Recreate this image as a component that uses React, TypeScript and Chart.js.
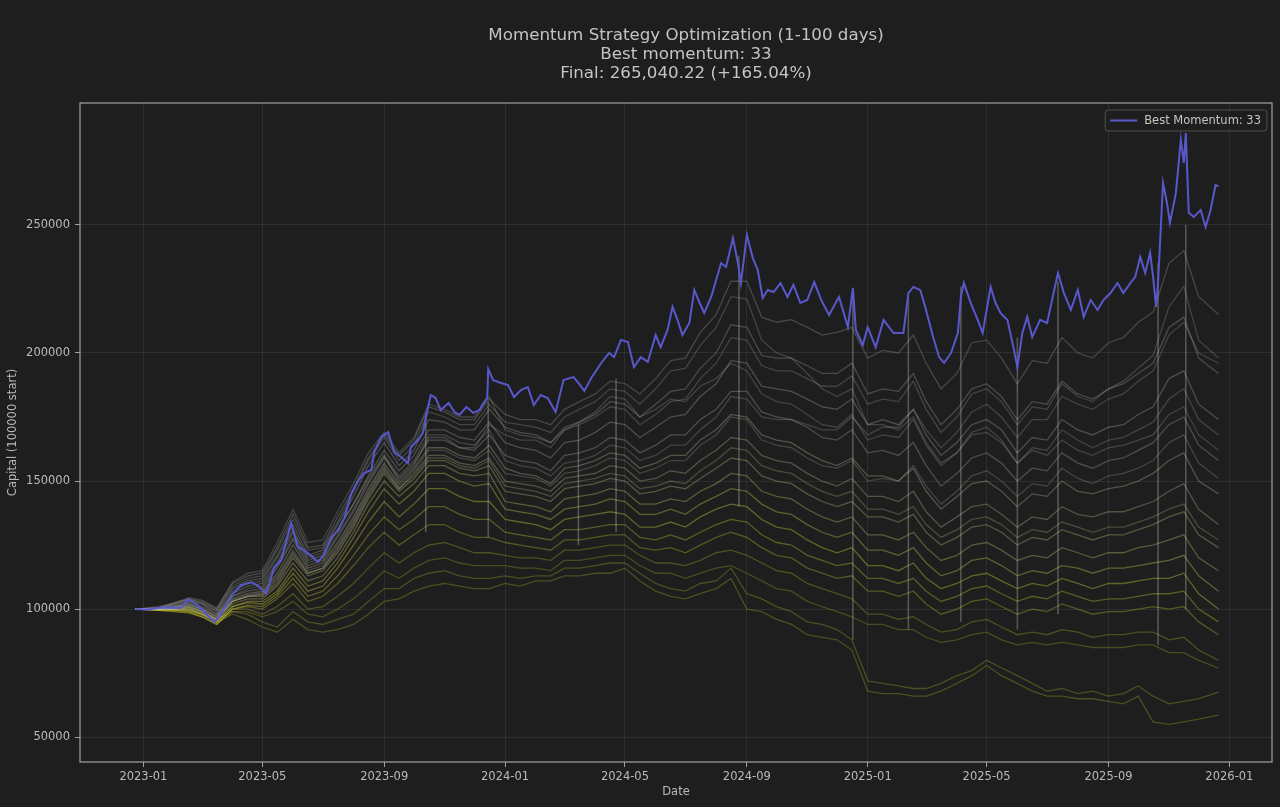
import React, { useEffect, useRef } from "react";
import { Chart, registerables } from "chart.js";

Chart.register(...registerables);

// ---- text ----
const TITLE_LINES = [
  "Momentum Strategy Optimization (1-100 days)",
  "Best momentum: 33",
  "Final: 265,040.22 (+165.04%)",
];
const BEST_LABEL = "Best Momentum: 33";
const X_AXIS_TITLE = "Date";
const Y_AXIS_TITLE = "Capital (100000 start)";

// ---- axes ----
const X_TICK_LABELS = [
  "2023-01", "2023-05", "2023-09", "2024-01", "2024-05",
  "2024-09", "2025-01", "2025-05", "2025-09", "2026-01",
];
const Y_TICK_VALUES = [50000, 100000, 150000, 200000, 250000];
const X_RANGE = ["2022-10-29", "2026-02-13"];
const Y_RANGE = [40300, 297600];

// ---- best run (momentum = 33) ----
const bestDates = [
  "2022-12-24", "2023-01-05", "2023-01-19", "2023-02-08", "2023-02-15", "2023-02-26", "2023-03-06", "2023-03-14",
  "2023-03-21", "2023-03-31", "2023-04-10", "2023-04-20", "2023-04-27", "2023-05-05", "2023-05-13", "2023-05-20",
  "2023-05-30", "2023-06-06", "2023-06-12", "2023-06-21", "2023-06-26", "2023-07-02", "2023-07-10", "2023-07-17",
  "2023-07-23", "2023-07-30", "2023-08-06", "2023-08-12", "2023-08-19", "2023-08-22", "2023-08-29", "2023-09-05",
  "2023-09-11", "2023-09-18", "2023-09-25", "2023-09-28", "2023-10-05", "2023-10-10", "2023-10-13", "2023-10-18",
  "2023-10-23", "2023-10-28", "2023-11-05", "2023-11-11", "2023-11-16", "2023-11-23", "2023-11-30", "2023-12-06",
  "2023-12-11", "2023-12-14", "2023-12-15", "2023-12-20", "2023-12-28", "2024-01-04", "2024-01-10", "2024-01-17",
  "2024-01-24", "2024-01-30", "2024-02-06", "2024-02-13", "2024-02-21", "2024-02-29", "2024-03-10", "2024-03-15",
  "2024-03-21", "2024-03-28", "2024-04-07", "2024-04-15", "2024-04-20", "2024-04-27", "2024-05-04", "2024-05-10",
  "2024-05-17", "2024-05-24", "2024-05-27", "2024-06-01", "2024-06-06", "2024-06-13", "2024-06-18", "2024-06-23",
  "2024-06-28", "2024-07-05", "2024-07-10", "2024-07-15", "2024-07-20", "2024-07-27", "2024-08-01", "2024-08-06",
  "2024-08-11", "2024-08-18", "2024-08-23", "2024-08-26", "2024-09-01", "2024-09-07", "2024-09-12", "2024-09-17",
  "2024-09-22", "2024-09-28", "2024-10-05", "2024-10-12", "2024-10-18", "2024-10-25", "2024-11-01", "2024-11-08",
  "2024-11-15", "2024-11-23", "2024-12-03", "2024-12-12", "2024-12-17", "2024-12-20", "2024-12-27", "2025-01-01",
  "2025-01-09", "2025-01-17", "2025-01-27", "2025-02-06", "2025-02-11", "2025-02-16", "2025-02-23", "2025-02-28",
  "2025-03-08", "2025-03-14", "2025-03-19", "2025-03-26", "2025-04-02", "2025-04-05", "2025-04-08", "2025-04-15",
  "2025-04-22", "2025-04-27", "2025-05-05", "2025-05-10", "2025-05-15", "2025-05-22", "2025-05-28", "2025-06-01",
  "2025-06-06", "2025-06-11", "2025-06-16", "2025-06-24", "2025-07-01", "2025-07-12", "2025-07-18", "2025-07-25",
  "2025-08-01", "2025-08-07", "2025-08-14", "2025-08-21", "2025-08-27", "2025-09-03", "2025-09-10", "2025-09-16",
  "2025-09-23", "2025-09-28", "2025-10-03", "2025-10-08", "2025-10-13", "2025-10-16", "2025-10-19", "2025-10-21",
  "2025-10-26", "2025-10-30", "2025-11-02", "2025-11-08", "2025-11-13", "2025-11-16", "2025-11-18", "2025-11-21",
  "2025-11-26", "2025-12-03", "2025-12-08", "2025-12-13", "2025-12-18", "2025-12-21",
];
const bestCapital = [
  100000, 99800, 100600, 100400, 103900, 101200, 97700, 94900,
  98400, 105500, 109400, 110500, 109000, 106200, 116400, 119100,
  133600, 124200, 123000, 120300, 118400, 121100, 128100, 130900,
  135900, 145300, 150400, 153100, 154300, 161300, 167200, 169100,
  161300, 159400, 157000, 163300, 166000, 168700, 175000, 183600,
  182400, 177700, 180500, 176900, 175800, 178900, 176600, 177700,
  180900, 182400, 193700, 189400, 188300, 187500, 182800, 185500,
  186700, 179700, 183600, 182400, 176900, 189400, 190600, 188300,
  185200, 190200, 196100, 200000, 198400, 205100, 204300, 194500,
  198400, 196500, 200400, 207000, 202300, 209000, 218000, 212900,
  207000, 211700, 224600, 219900, 215600, 221900, 228500, 235100,
  233600, 244900, 235100, 227300, 246100, 237100, 232400, 221500,
  224600, 223800, 227300, 221900, 226600, 219500, 220700, 227700,
  220700, 214800, 221900, 210100, 225400, 209000, 203100, 210100,
  202300, 212900, 207800, 207800, 223400, 225800, 224600, 218000,
  206200, 198400, 196100, 200000, 207800, 221900, 227300, 219500,
  212900, 207800, 225800, 219500, 215600, 212900, 202300, 194500,
  207800, 214100, 206200, 212900, 211700, 231200, 223400, 216800,
  224600, 214100, 220700, 216800, 220700, 223400, 227300, 223400,
  227300, 229700, 237500, 231200, 239100, 229700, 218000, 227300,
  266400, 258600, 250800, 262500, 283200, 274200, 285900, 254700,
  253100, 255800, 249200, 255800, 265600, 265040.22,
];

// ---- other momentum runs, twice a month (capital in thousands) ----
const sweepDates = [
  "2022-12-24", "2023-01-16",
  "2023-02-01", "2023-02-16", "2023-03-01", "2023-03-16", "2023-04-01", "2023-04-16", "2023-05-01", "2023-05-16",
  "2023-06-01", "2023-06-16", "2023-07-01", "2023-07-16", "2023-08-01", "2023-08-16", "2023-09-01", "2023-09-16",
  "2023-10-01", "2023-10-16", "2023-11-01", "2023-11-16", "2023-12-01", "2023-12-16", "2024-01-01", "2024-01-16",
  "2024-02-01", "2024-02-16", "2024-03-01", "2024-03-16", "2024-04-01", "2024-04-16", "2024-05-01", "2024-05-16",
  "2024-06-01", "2024-06-16", "2024-07-01", "2024-07-16", "2024-08-01", "2024-08-16", "2024-09-01", "2024-09-16",
  "2024-10-01", "2024-10-16", "2024-11-01", "2024-11-16", "2024-12-01", "2024-12-16", "2025-01-01", "2025-01-16",
  "2025-02-01", "2025-02-16", "2025-03-01", "2025-03-16", "2025-04-01", "2025-04-16", "2025-05-01", "2025-05-16",
  "2025-06-01", "2025-06-16", "2025-07-01", "2025-07-16", "2025-08-01", "2025-08-16", "2025-09-01", "2025-09-16",
  "2025-10-01", "2025-10-16", "2025-11-01", "2025-11-16", "2025-12-01", "2025-12-21",
];
const runUpper1 = [100, 100.5, 102, 104, 103, 100, 110, 113, 114, 124, 137, 124, 125, 136, 147, 159, 168, 160, 166, 179, 177, 174, 174, 182, 176, 174, 174, 172, 178, 181, 184, 189, 188, 184, 190, 197, 198, 208, 215, 228, 228, 214, 212, 213, 210, 207, 208, 210, 198, 201, 200, 207, 196, 186, 192, 204, 205, 198, 188, 197, 196, 206, 200, 198, 204, 206, 212, 216, 235, 240, 222, 215];
const runUpper2 = [100, 100.3, 101.5, 103, 102, 99, 108, 111, 112, 121, 133, 121, 123, 133, 144, 156, 165, 156, 162, 174, 173, 170, 170, 178, 171, 169, 168, 165, 171, 173, 176, 181, 180, 175, 180, 185, 186, 194, 200, 211, 210, 199, 198, 198, 195, 192, 192, 196, 184, 186, 185, 192, 181, 172, 178, 186, 188, 183, 174, 181, 180, 189, 184, 182, 186, 188, 192, 196, 210, 214, 198, 192];
const runUpper3 = [100, 100.2, 101, 102.5, 101, 98, 106, 109, 110, 118, 130, 119, 121, 131, 141, 152, 162, 154, 160, 170, 170, 167, 166, 173, 165, 163, 162, 159, 165, 166, 169, 173, 172, 167, 171, 175, 176, 183, 188, 197, 196, 187, 186, 185, 182, 179, 178, 182, 172, 174, 172, 178, 168, 160, 165, 172, 174, 170, 161, 167, 166, 174, 170, 168, 171, 172, 176, 179, 190, 193, 180, 174];
const runUpper4 = [100, 100, 101, 102, 100, 97, 105, 107, 108, 116, 127, 117, 119, 128, 138, 149, 159, 151, 157, 166, 166, 163, 162, 168, 160, 158, 157, 154, 160, 161, 163, 167, 166, 161, 164, 168, 168, 174, 178, 185, 185, 177, 175, 174, 171, 167, 166, 170, 161, 162, 160, 165, 156, 148, 153, 159, 161, 157, 150, 155, 154, 161, 157, 155, 158, 159, 162, 165, 172, 175, 164, 158];
const runUpper5 = [100, 99.8, 100.5, 101.5, 100, 97, 104, 106, 107, 114, 125, 116, 118, 126, 136, 147, 157, 149, 155, 163, 163, 160, 159, 164, 155, 153, 152, 149, 155, 156, 158, 161, 160, 155, 157, 160, 160, 166, 170, 176, 175, 168, 166, 165, 161, 158, 156, 159, 152, 152, 150, 155, 146, 139, 144, 149, 150, 146, 140, 145, 144, 150, 146, 145, 147, 148, 150, 153, 158, 161, 150, 145];
const runUpper6 = [100, 100, 100.5, 101, 99, 96, 103, 105, 106, 112, 122, 114, 116, 124, 134, 145, 155, 147, 153, 160, 160, 157, 156, 159, 150, 149, 148, 146, 151, 152, 153, 156, 155, 150, 151, 154, 153, 158, 162, 167, 166, 160, 158, 157, 153, 150, 148, 151, 144, 144, 142, 146, 138, 132, 136, 140, 141, 137, 132, 136, 135, 140, 137, 136, 138, 138, 140, 142, 146, 149, 139, 133];
const runFadeLate = [100, 100.4, 101.8, 103.5, 102.5, 99.5, 109, 112, 113, 123, 135, 123, 124, 134, 146, 158, 167, 158, 164, 177, 175, 172, 172, 180, 173, 172, 171, 169, 175, 178, 181, 186, 185, 180, 186, 193, 194, 203, 210, 222, 221, 205, 200, 198, 192, 186, 183, 186, 172, 172, 170, 175, 165, 157, 161, 168, 169, 165, 157, 162, 160, 166, 162, 160, 163, 164, 166, 168, 176, 179, 168, 162];
const runRiseLate = [100, 100.1, 100.8, 102, 100.5, 97.5, 105, 108, 109, 117, 128, 118, 120, 129, 139, 150, 160, 152, 158, 168, 168, 165, 164, 170, 158, 156, 155, 152, 157, 158, 160, 164, 163, 158, 160, 164, 164, 170, 175, 183, 182, 175, 174, 174, 172, 170, 170, 175, 168, 171, 171, 178, 170, 163, 169, 177, 180, 175, 167, 174, 174, 183, 180, 178, 182, 184, 189, 193, 207, 212, 200, 196];
const runPeakMid = [100, 101, 102.5, 104, 102, 98, 107, 110, 111, 120, 131, 120, 122, 131, 141, 151, 160, 150, 156, 167, 167, 163, 163, 172, 168, 166, 166, 163, 170, 173, 177, 183, 182, 175, 178, 182, 181, 187, 190, 196, 193, 184, 181, 180, 176, 172, 171, 176, 166, 168, 167, 174, 164, 156, 161, 169, 171, 166, 157, 163, 162, 170, 166, 163, 166, 167, 170, 173, 182, 186, 174, 168];
const runSteady = [100, 99.9, 100.6, 101.2, 99.5, 96.5, 103.5, 105.5, 106.5, 113, 123, 115, 117, 125, 135, 146, 156, 148, 154, 162, 162, 159, 158, 162, 153, 152, 151, 148, 153, 154, 156, 159, 158, 153, 155, 158, 158, 164, 168, 175, 174, 166, 164, 163, 159, 156, 155, 158, 150, 151, 150, 156, 148, 141, 146, 152, 154, 150, 144, 149, 148, 155, 151, 149, 152, 153, 155, 158, 165, 168, 157, 151];
const runDrift = [100, 100, 100.2, 100.8, 99.2, 96.2, 103, 105, 105.5, 111, 121, 114, 116, 123, 133, 144, 154, 147, 152, 159, 159, 156, 155, 158, 148, 147, 146, 144, 149, 150, 151, 153, 152, 147, 148, 150, 149, 154, 158, 163, 162, 156, 154, 153, 149, 146, 144, 146, 139, 139, 137, 140, 133, 128, 131, 135, 136, 133, 128, 131, 130, 134, 132, 130, 132, 132, 134, 136, 139, 141, 132, 127];
const runLateSurge = [100, 100.6, 102.3, 104.5, 103.5, 100.5, 110.5, 114, 115, 126, 139, 126, 127, 138, 149, 161, 169, 161, 167, 180, 178, 175, 175, 183, 170, 168, 167, 165, 170, 172, 175, 179, 178, 172, 176, 181, 182, 190, 196, 206, 205, 195, 193, 193, 190, 187, 187, 191, 180, 182, 181, 189, 178, 169, 175, 184, 186, 181, 172, 179, 178, 188, 183, 181, 186, 189, 194, 199, 218, 226, 205, 198];
const runMiddle1 = [100, 100, 100, 100.5, 99, 96, 103, 105, 105, 110, 120, 113, 115, 122, 132, 143, 153, 146, 151, 158, 158, 155, 154, 156, 146, 145, 144, 142, 147, 148, 149, 151, 150, 145, 146, 148, 147, 151, 155, 159, 158, 152, 150, 149, 145, 142, 140, 142, 136, 136, 134, 137, 130, 125, 128, 132, 133, 130, 125, 128, 127, 131, 129, 127, 129, 129, 131, 133, 136, 138, 129, 124];
const runMiddle2 = [100, 99.8, 100, 100, 98.5, 95.5, 102, 104, 104, 109, 118, 111, 113, 120, 130, 141, 150, 144, 149, 156, 156, 153, 152, 153, 142, 141, 140, 138, 143, 144, 145, 147, 146, 141, 141, 143, 142, 146, 149, 153, 152, 146, 144, 143, 139, 136, 134, 136, 129, 129, 127, 130, 124, 119, 121, 125, 126, 123, 119, 121, 120, 124, 122, 120, 122, 122, 124, 125, 127, 129, 120, 115];
const runMiddle3 = [100, 99.7, 100, 99.5, 98, 95, 101, 103, 103, 107, 116, 109, 111, 118, 128, 138, 147, 141, 146, 153, 153, 150, 148, 149, 139, 138, 137, 135, 139, 140, 141, 143, 142, 137, 137, 139, 137, 141, 144, 147, 146, 141, 138, 137, 133, 130, 128, 130, 123, 123, 121, 124, 118, 113, 115, 119, 120, 117, 113, 115, 114, 117, 116, 114, 116, 116, 117, 118, 119, 121, 113, 107];
const runMiddle4 = [100, 99.7, 99.5, 99.5, 98, 95, 101, 102.5, 102, 106, 114, 107, 109, 116, 125, 134, 142, 136, 141, 147, 147, 144, 142, 142, 135, 134, 133, 131, 135, 136, 137, 138, 137, 132, 132, 134, 132, 136, 139, 141, 140, 135, 132, 131, 127, 124, 122, 124, 117, 117, 115, 118, 112, 108, 110, 113, 114, 111, 108, 110, 109, 112, 110, 108, 110, 110, 111, 112, 112, 114, 106, 100];
const runMiddle5 = [100, 99.6, 99.5, 99, 97.5, 94.5, 100, 101.5, 101, 105, 112, 105, 107, 113, 121, 129, 136, 131, 135, 140, 140, 137, 135, 135, 130, 129, 128, 127, 131, 131, 132, 133, 133, 128, 127, 129, 127, 130, 133, 135, 134, 129, 126, 125, 121, 119, 117, 118, 112, 112, 110, 112, 107, 103, 105, 108, 109, 106, 103, 105, 104, 107, 105, 103, 104, 104, 105, 106, 106, 107, 100, 95];
const runMiddle6 = [100, 99.5, 99, 98.5, 97, 94, 100, 101, 100, 104, 110, 103, 105, 110, 117, 124, 130, 125, 129, 133, 133, 130, 128, 128, 126, 125, 124, 123, 127, 127, 128, 129, 129, 124, 123, 124, 122, 125, 128, 130, 128, 124, 121, 120, 116, 114, 112, 113, 107, 107, 105, 107, 102, 98, 100, 103, 104, 101, 98, 100, 99, 102, 100, 98, 99, 99, 100, 101, 100, 101, 95, 90];
const runLower1 = [100, 99.5, 99, 98.5, 97, 94, 100, 100, 98, 101, 106, 100, 101, 105, 110, 116, 122, 118, 122, 125, 126, 124, 122, 122, 121, 120, 120, 119, 123, 123, 124, 125, 125, 121, 118, 118, 117, 119, 122, 123, 121, 118, 115, 114, 110, 108, 106, 104, 98, 98, 96, 97, 94, 91, 92, 95, 96, 93, 90, 91, 90, 92, 91, 89, 90, 90, 91, 91, 88, 89, 84, 80];
const runLower2 = [100, 99.8, 99.5, 99, 97, 94, 99, 99, 97, 99, 103, 98, 97, 100, 104, 109, 115, 112, 116, 119, 120, 118, 117, 117, 117, 116, 116, 115, 119, 119, 120, 121, 121, 117, 114, 114, 112, 114, 116, 117, 114, 111, 108, 107, 103, 101, 99, 97, 94, 94, 92, 92, 89, 87, 88, 90, 91, 88, 86, 87, 86, 87, 86, 85, 85, 85, 86, 86, 83, 83, 80, 77];
const runLowest1 = [100, 100, 100, 100.5, 98, 96, 99, 98, 95, 93, 99, 95, 94, 96, 98, 103, 108, 108, 112, 114, 115, 113, 112, 112, 113, 112, 113, 113, 116, 116, 117, 118, 118, 114, 110, 108, 107, 110, 111, 116, 106, 104, 101, 99, 95, 94, 92, 88, 72, 71, 70, 69, 69, 71, 74, 76, 80, 77, 74, 71, 68, 69, 67, 68, 66, 67, 70, 66, 63, 64, 65, 67.6];
const runLowest2 = [100, 100, 100, 100, 98, 95, 98, 96, 93, 91, 96, 92, 91, 92, 94, 98, 103, 104, 107, 109, 110, 109, 108, 108, 110, 109, 111, 111, 113, 113, 114, 114, 116, 111, 107, 105, 104, 106, 108, 112, 100, 99, 96, 94, 90, 89, 88, 84, 68, 67, 67, 66, 66, 68, 71, 74, 78, 74, 71, 68, 66, 66, 65, 65, 64, 63, 66, 56, 55, 56, 57, 58.6];

// ---- one-day jumps shared by many runs ----
const jumpDates = [
  "2023-10-13", "2023-12-15", "2024-03-15", "2024-04-22", "2024-08-24", "2024-12-17",
  "2025-02-11", "2025-04-05", "2025-06-01", "2025-07-12", "2025-10-21", "2025-11-18",
];
const jumpLow = [130000, 128000, 125000, 130000, 140000, 88000, 92000, 95000, 92000, 98000, 86000, 100000];
const jumpHigh = [176000, 181000, 172000, 190000, 238000, 224000, 222000, 226000, 206000, 228000, 235000, 250000];

// ---- colours ----
const BG = "#1e1e1e";
const BEST_COLOR = "#5858cc";
const TEXT_COLOR = "#c4c4c4";
const TICK_TEXT = "#bababa";
const SPINE = "#a2a2a2";
const GRID = "rgba(255,255,255,0.075)";
const JUMP_COLOR = "rgba(215,215,205,0.30)";
const FONT = '"DejaVu Sans", "Liberation Sans", sans-serif';

const GREY_RUN = "rgba(190,190,185,0.24)";
const sweepRuns: { values: number[]; color: string }[] = [
  { values: runUpper1, color: "rgba(190,190,190,0.26)" },
  { values: runLateSurge, color: GREY_RUN },
  { values: runUpper2, color: "rgba(190,190,190,0.28)" },
  { values: runFadeLate, color: GREY_RUN },
  { values: runUpper3, color: "rgba(190,190,180,0.30)" },
  { values: runRiseLate, color: GREY_RUN },
  { values: runPeakMid, color: GREY_RUN },
  { values: runUpper4, color: "rgba(190,190,175,0.30)" },
  { values: runUpper5, color: "rgba(195,195,160,0.32)" },
  { values: runSteady, color: GREY_RUN },
  { values: runUpper6, color: "rgba(195,195,150,0.32)" },
  { values: runDrift, color: "rgba(195,195,140,0.28)" },
  { values: runMiddle1, color: "rgba(200,200,130,0.34)" },
  { values: runMiddle2, color: "rgba(200,200,110,0.36)" },
  { values: runMiddle3, color: "rgba(205,205,80,0.38)" },
  { values: runMiddle4, color: "rgba(205,205,60,0.40)" },
  { values: runMiddle5, color: "rgba(195,195,50,0.38)" },
  { values: runMiddle6, color: "rgba(190,190,45,0.36)" },
  { values: runLower1, color: "rgba(175,175,45,0.34)" },
  { values: runLower2, color: "rgba(165,165,40,0.34)" },
  { values: runLowest1, color: "rgba(150,150,40,0.40)" },
  { values: runLowest2, color: "rgba(150,150,40,0.40)" },
];

const toTime = (d: string) => Date.parse(d + "T00:00:00Z");

const decorPlugin = {
  id: "decor",
  beforeDraw(chart: any) {
    const { ctx, width, height } = chart;
    ctx.save();
    ctx.fillStyle = BG;
    ctx.fillRect(0, 0, width, height);
    ctx.restore();
  },
  afterDatasetsDraw(chart: any) {
    const { ctx, chartArea: a } = chart;
    ctx.save();
    // frame
    ctx.strokeStyle = SPINE;
    ctx.lineWidth = 1.2;
    ctx.strokeRect(a.left, a.top, a.right - a.left, a.bottom - a.top);

    // legend in the upper-right corner
    ctx.font = `11.5px ${FONT}`;
    const tw = ctx.measureText(BEST_LABEL).width;
    const h = 21;
    const w = 39 + tw + 6;
    const x0 = a.right - 5 - w;
    const y0 = a.top + 7;
    ctx.beginPath();
    ctx.roundRect(x0, y0, w, h, 3);
    ctx.fillStyle = "rgba(30,30,30,0.85)";
    ctx.fill();
    ctx.strokeStyle = "rgba(85,85,85,0.9)";
    ctx.lineWidth = 1;
    ctx.stroke();
    ctx.beginPath();
    ctx.moveTo(x0 + 5, y0 + h / 2);
    ctx.lineTo(x0 + 32, y0 + h / 2);
    ctx.strokeStyle = BEST_COLOR;
    ctx.lineWidth = 2;
    ctx.stroke();
    ctx.fillStyle = TEXT_COLOR;
    ctx.textAlign = "left";
    ctx.textBaseline = "middle";
    ctx.fillText(BEST_LABEL, x0 + 39, y0 + h / 2 + 0.5);
    ctx.restore();
  },
  afterDraw(chart: any) {
    const { ctx } = chart;
    ctx.save();
    ctx.font = `16.7px ${FONT}`;
    ctx.fillStyle = TEXT_COLOR;
    ctx.textAlign = "center";
    ctx.textBaseline = "alphabetic";
    const cx = 686;
    TITLE_LINES.forEach((line, i) => ctx.fillText(line, cx, 40 + i * 19));
    ctx.restore();
  },
};

export default function App() {
  const canvasRef = useRef<HTMLCanvasElement | null>(null);

  useEffect(() => {
    const canvas = canvasRef.current;
    if (!canvas) return;

    const bestPoints = bestDates.map((d, i) => ({ x: toTime(d), y: bestCapital[i] }));
    const sweepTimes = sweepDates.map(toTime);

    // Chart.js paints the last dataset first, so the order below is top to bottom.
    const datasets: any[] = [
      {
        label: BEST_LABEL,
        data: bestPoints,
        borderColor: BEST_COLOR,
        borderWidth: 2,
        pointRadius: 0,
        tension: 0,
        fill: false,
      },
      ...jumpDates.map((d, k) => ({
        label: `jump ${d}`,
        data: [
          { x: toTime(d), y: jumpLow[k] },
          { x: toTime(d), y: jumpHigh[k] },
        ],
        borderColor: JUMP_COLOR,
        borderWidth: 1.6,
        pointRadius: 0,
        fill: false,
      })),
      ...sweepRuns.map((run, k) => ({
        label: `run ${k + 1}`,
        data: run.values.map((v, i) => ({ x: sweepTimes[i], y: v * 1000 })),
        borderColor: run.color,
        borderWidth: 1.3,
        pointRadius: 0,
        tension: 0,
        fill: false,
      })),
    ];

    const tickFont = { family: FONT, size: 11.5 };

    const chart = new Chart(canvas, {
      type: "line",
      data: { datasets },
      plugins: [decorPlugin],
      options: {
        animation: false,
        responsive: false,
        devicePixelRatio: 1,
        layout: { padding: { top: 103, right: 8, bottom: 0, left: 0 } },
        plugins: {
          legend: { display: false },
          title: { display: false },
          tooltip: { enabled: false },
        },
        scales: {
          x: {
            type: "linear",
            min: toTime(X_RANGE[0]),
            max: toTime(X_RANGE[1]),
            afterBuildTicks: (scale: any) => {
              scale.ticks = X_TICK_LABELS.map((l) => ({ value: toTime(l + "-01") }));
            },
            afterFit: (scale: any) => {
              scale.height = 45;
            },
            ticks: {
              color: TICK_TEXT,
              font: tickFont,
              padding: 3,
              maxRotation: 0,
              autoSkip: false,
              callback: (v: any) => new Date(Number(v)).toISOString().slice(0, 7),
            },
            grid: { color: GRID, tickColor: SPINE, tickLength: 5, lineWidth: 1 },
            border: { display: false },
            title: {
              display: true,
              text: X_AXIS_TITLE,
              color: TICK_TEXT,
              font: tickFont,
              padding: { top: 0, bottom: 8 },
            },
          },
          y: {
            type: "linear",
            min: Y_RANGE[0],
            max: Y_RANGE[1],
            afterBuildTicks: (scale: any) => {
              scale.ticks = Y_TICK_VALUES.map((v) => ({ value: v }));
            },
            afterFit: (scale: any) => {
              scale.width = 80;
            },
            ticks: {
              color: TICK_TEXT,
              font: tickFont,
              padding: 5,
              callback: (v: any) => String(v),
            },
            grid: { color: GRID, tickColor: SPINE, tickLength: 5, lineWidth: 1 },
            border: { display: false },
            title: {
              display: true,
              text: Y_AXIS_TITLE,
              color: TICK_TEXT,
              font: tickFont,
              padding: { top: 6, bottom: 0 },
            },
          },
        },
      } as any,
    });

    return () => chart.destroy();
  }, []);

  return (
    <div style={{ position: "fixed", left: 0, top: 0, width: 1280, height: 807, background: BG }}>
      <canvas ref={canvasRef} width={1280} height={807} style={{ display: "block" }} />
    </div>
  );
}
